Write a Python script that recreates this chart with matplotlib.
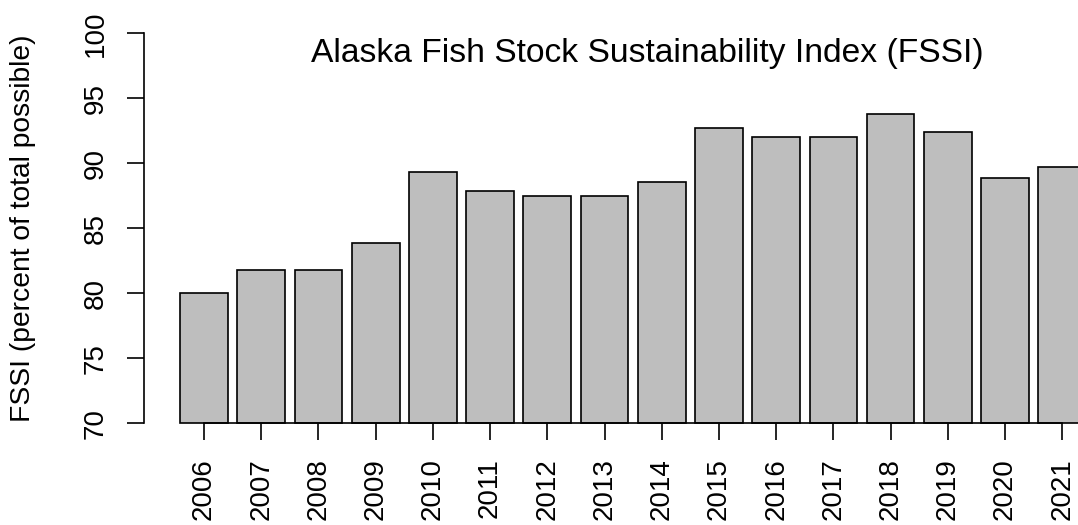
import matplotlib
matplotlib.use("Agg")
import matplotlib.pyplot as plt

years = ["2006", "2007", "2008", "2009", "2010", "2011", "2012", "2013",
         "2014", "2015", "2016", "2017", "2018", "2019", "2020", "2021"]
fssi = [80.0, 81.8, 81.8, 83.9, 89.3, 87.9, 87.5, 87.5,
        88.6, 92.7, 92.0, 92.0, 93.8, 92.4, 88.9, 89.7]
yticks = [70, 75, 80, 85, 90, 95, 100]

plt.rcParams['font.family'] = ['Liberation Sans', 'DejaVu Sans']

W, H = 1078, 525
fig = plt.figure(figsize=(W / 100, H / 100), dpi=100)

# plot region in pixels (R-like layout)
left_px, right_px = 143.7, 1123.8
top_px, bot_px = 33.3, 423.3
ax = fig.add_axes([left_px / W, 1 - bot_px / H,
                   (right_px - left_px) / W, (bot_px - top_px) / H])
ax.set_facecolor('none')

pitch = (1062.3 - 204.0) / 15
x0 = (left_px - 204.0) / pitch
x1 = (right_px - 204.0) / pitch
pos = list(range(len(years)))

ax.bar(pos, [v - 70 for v in fssi], bottom=70, width=1 / 1.2,
       color='#BEBEBE', edgecolor='black', linewidth=1.2, clip_on=False)

ax.set_xlim(x0, x1)
ax.set_ylim(70, 100)

for s in ['top', 'right']:
    ax.spines[s].set_visible(False)
ax.spines['left'].set_bounds(70, 100)
ax.spines['bottom'].set_bounds(0, len(years) - 1)
for s in ['left', 'bottom']:
    ax.spines[s].set_linewidth(1.2)
    ax.spines[s].set_color('black')

ax.set_xticks(pos)
ax.set_xticklabels(years, rotation=90, fontsize=20)
ax.set_yticks(yticks)
ax.set_yticklabels([str(t) for t in yticks], rotation=90, fontsize=20,
                   va='center')
ax.tick_params(axis='both', direction='out', length=12.5, width=1.2,
               colors='black', pad=12.5)

fig.text(23.5 / W, 1 - 228.3 / H, "FSSI (percent of total possible)",
         rotation=90, ha='center', va='center', fontsize=20.3)
fig.text(647 / W, 1 - 61.7 / H,
         "Alaska Fish Stock Sustainability Index (FSSI)",
         ha='center', va='baseline', fontsize=24.2)

fig.savefig("out.png", dpi=100)
